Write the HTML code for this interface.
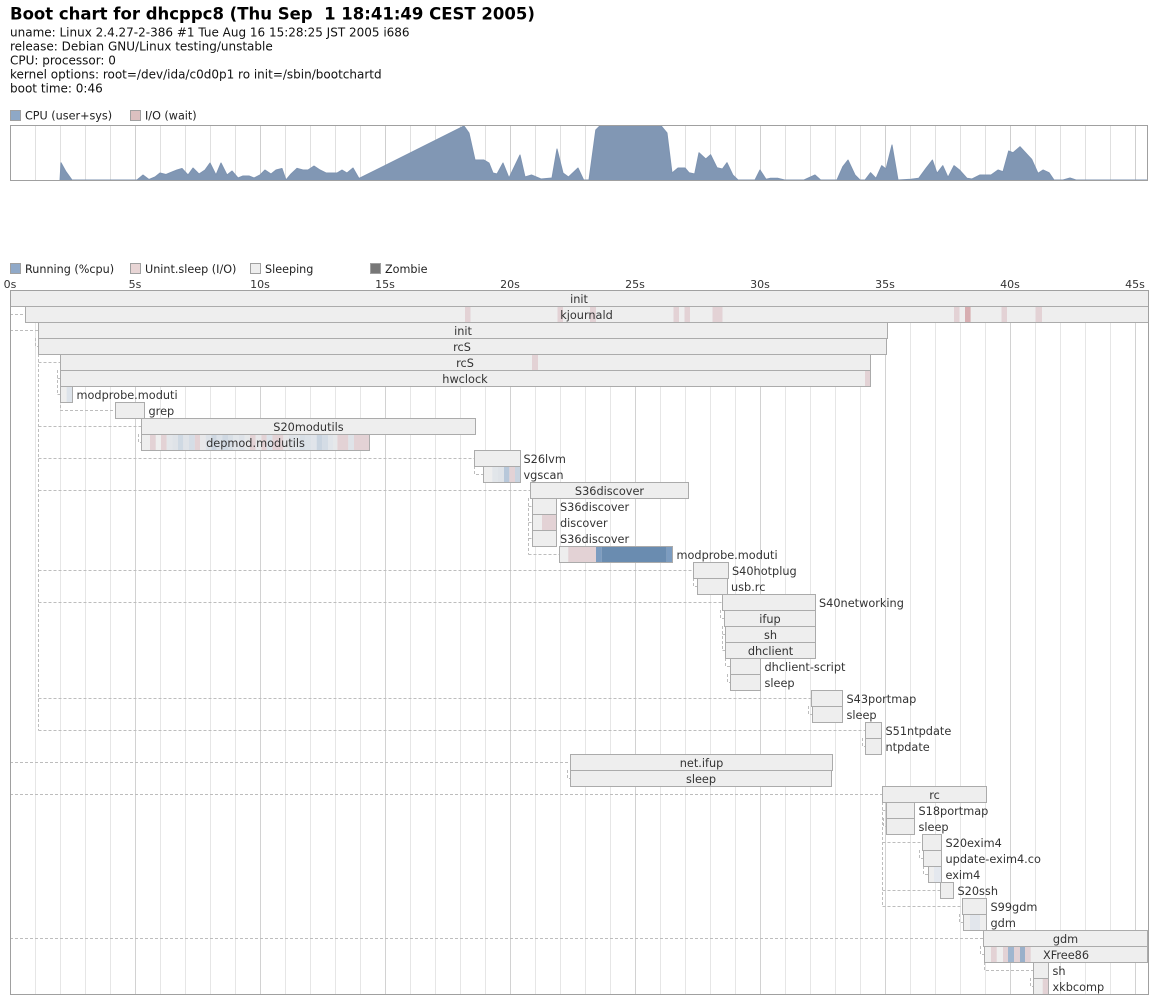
<!DOCTYPE html>
<html><head><meta charset="utf-8"><style>
html,body{margin:0;padding:0;background:#fff;}
svg{display:block;}
text{font-family:"DejaVu Sans","Liberation Sans",sans-serif;}
.hd{font-size:12px;fill:#111;}
.lg{font-size:11.2px;fill:#222;}
.tl{font-size:11px;fill:#333;text-anchor:middle;}
.pl{font-size:11.3px;fill:#333;}
.pc{font-size:11.3px;fill:#333;text-anchor:middle;}
.bar{fill:#eeeeee;}
.bs{fill:none;stroke:#ababab;stroke-width:1;}
.pk{fill:#e3d2d5;}
.dep{fill:none;stroke:#bdbdbd;stroke-width:1;stroke-dasharray:3,2;}
</style></head><body>
<svg width="1158" height="1004" viewBox="0 0 1158 1004" xmlns="http://www.w3.org/2000/svg">
<rect width="1158" height="1004" fill="#fff"/>
<text x="10" y="19.3" style="font-size:16.5px;font-weight:bold;fill:#000;white-space:pre" xml:space="preserve">Boot chart for dhcppc8 (Thu Sep  1 18:41:49 CEST 2005)</text>
<text class="hd" x="10" y="36.3">uname: Linux 2.4.27-2-386 #1 Tue Aug 16 15:28:25 JST 2005 i686</text>
<text class="hd" x="10" y="50.3">release: Debian GNU/Linux testing/unstable</text>
<text class="hd" x="10" y="64.3">CPU: processor: 0</text>
<text class="hd" x="10" y="78.3">kernel options: root=/dev/ida/c0d0p1 ro init=/sbin/bootchartd</text>
<text class="hd" x="10" y="92.3">boot time: 0:46</text>

<!-- CPU legend -->
<rect x="10.5" y="110.5" width="10" height="10" fill="#8ea8c6" stroke="#a0a0a0"/>
<text class="lg" x="25" y="119.5">CPU (user+sys)</text>
<rect x="130.5" y="110.5" width="10" height="10" fill="#dcc0c0" stroke="#a0a0a0"/>
<text class="lg" x="145" y="119.5">I/O (wait)</text>

<!-- CPU chart grid -->
<path stroke="#e0e0e0" stroke-width="1" fill="none" d="M35.5 125V180M60.5 125V180M85.5 125V180M110.5 125V180M160.5 125V180M185.5 125V180M210.5 125V180M235.5 125V180M285.5 125V180M310.5 125V180M335.5 125V180M360.5 125V180M410.5 125V180M435.5 125V180M460.5 125V180M485.5 125V180M535.5 125V180M560.5 125V180M585.5 125V180M610.5 125V180M660.5 125V180M685.5 125V180M710.5 125V180M735.5 125V180M785.5 125V180M810.5 125V180M835.5 125V180M860.5 125V180M910.5 125V180M935.5 125V180M960.5 125V180M985.5 125V180M1035.5 125V180M1060.5 125V180M1085.5 125V180M1110.5 125V180"/>
<path stroke="#cfcfcf" stroke-width="1" fill="none" d="M135.5 125V180M260.5 125V180M385.5 125V180M510.5 125V180M635.5 125V180M760.5 125V180M885.5 125V180M1010.5 125V180M1135.5 125V180"/>

<!-- CPU area -->
<path fill="#8197b4" stroke="#7d93b1" stroke-width="1" stroke-linejoin="round" d="M60 180.5 L61 162.7 L66 171.7 L72 180 L137 180 L143 175 L149 179.5 L155 177 L160 173 L166 174.5 L172 172 L177 170 L182 168.5 L188 175 L193 168 L199 174 L205 170 L210 163 L216 175 L221 163 L227 175 L232 171 L238 178 L243 176 L249 176 L254 178 L260 175 L265 170 L271 174 L276 170 L282 168.5 L286 180 L291 174 L297 168.3 L303 170 L308 170 L314 166 L320 170 L326 173 L331 173 L337 173 L342 170 L347 173 L353 168 L359 178.5 L464 126 L469 133 L475 160 L484 160 L489 163 L493 173 L497 174 L503 163 L509 178 L520 155 L525 177 L531.5 175 L541 179 L552 178 L557 149 L563 173 L568.5 177 L578 168 L583.6 180 L589 180 L595.8 130 L600 125.7 L661 125.7 L667 133 L672 173 L678 168 L685 168 L689 172.7 L694.7 174 L699 152.7 L705.8 159 L710.6 154.7 L717 167.7 L722.4 169 L727 162.7 L732.8 175 L738 180 L755 180 L760 170 L766 179.3 L770.6 178.3 L778 178.3 L784.7 180 L804 180 L815 175 L820.6 180 L837 180 L842.8 166.7 L848 160 L855 175 L860 180 L865 180 L870.6 172.7 L876 178.3 L881.7 165.7 L886 169 L892 145 L898 180 L911 179.3 L918.7 178.3 L926 168.3 L932.4 160 L937 173.3 L942.8 165.7 L948 177.3 L954 165.7 L959.5 170 L967 178.3 L972 179 L980 175 L991 175 L998 170 L1003 171.7 L1008.7 151 L1013 152.7 L1020 146.7 L1031.7 159.3 L1038 173.3 L1043 170 L1049 172.7 L1054 180 L1063 180 L1070 178 L1076 180 L1147.5 180 L1147.5 180.5 Z"/>
<rect x="10.5" y="125.5" width="1137" height="55" fill="none" stroke="#a0a0a0"/>

<!-- Process legend -->
<rect x="10.5" y="263.5" width="10" height="10" fill="#90a9c8" stroke="#a0a0a0"/>
<text class="lg" x="25" y="273">Running (%cpu)</text>
<rect x="130.5" y="263.5" width="10" height="10" fill="#e8d5d5" stroke="#a0a0a0"/>
<text class="lg" x="145" y="273">Unint.sleep (I/O)</text>
<rect x="250.5" y="263.5" width="10" height="10" fill="#eeeeee" stroke="#a0a0a0"/>
<text class="lg" x="265" y="273">Sleeping</text>
<rect x="370.5" y="263.5" width="10" height="10" fill="#777777" stroke="#a0a0a0"/>
<text class="lg" x="385" y="273">Zombie</text>

<!-- time labels -->
<text class="tl" x="10" y="288">0s</text>
<text class="tl" x="135" y="288">5s</text>
<text class="tl" x="260" y="288">10s</text>
<text class="tl" x="385" y="288">15s</text>
<text class="tl" x="510" y="288">20s</text>
<text class="tl" x="635" y="288">25s</text>
<text class="tl" x="760" y="288">30s</text>
<text class="tl" x="885" y="288">35s</text>
<text class="tl" x="1010" y="288">40s</text>
<text class="tl" x="1135" y="288">45s</text>

<!-- process grid -->
<path stroke="#e6e6e6" stroke-width="1" fill="none" d="M35.5 290V994M60.5 290V994M85.5 290V994M110.5 290V994M160.5 290V994M185.5 290V994M210.5 290V994M235.5 290V994M285.5 290V994M310.5 290V994M335.5 290V994M360.5 290V994M410.5 290V994M435.5 290V994M460.5 290V994M485.5 290V994M535.5 290V994M560.5 290V994M585.5 290V994M610.5 290V994M660.5 290V994M685.5 290V994M710.5 290V994M735.5 290V994M785.5 290V994M810.5 290V994M835.5 290V994M860.5 290V994M910.5 290V994M935.5 290V994M960.5 290V994M985.5 290V994M1035.5 290V994M1060.5 290V994M1085.5 290V994M1110.5 290V994"/>
<path stroke="#d2d2d2" stroke-width="1" fill="none" d="M135.5 290V994M260.5 290V994M385.5 290V994M510.5 290V994M635.5 290V994M760.5 290V994M885.5 290V994M1010.5 290V994M1135.5 290V994"/>

<!-- dependency lines -->
<path class="dep" d="M10 314.5H25M10 330.5H38M35.5 338V346.5H38M38.5 354V730.5M38.5 362.5H60M57.5 370V394.5M57.5 378.5H60M57.5 394.5H60M60.5 370V410.5H115M38.5 426.5H141M138.5 434V442.5H141M38.5 458.5H474M474.5 466V474.5H483M38.5 490.5H530M528.5 498V554.5M528.5 506.5H532M528.5 522.5H532M528.5 538.5H532M528.5 554.5H559M38.5 570.5H693M693.5 578V586.5H697M38.5 602.5H722M720.5 610V618.5H724M722.5 626V650.5M722.5 634.5H725M722.5 650.5H725M725.5 658V666.5H730M727.5 674V682.5H730M38.5 698.5H811M808.5 706V714.5H812M38.5 730.5H865M862.5 738V746.5H865M10 762.5H570M567.5 770V778.5H570M10 794.5H882M882.5 802V906.5M882.5 810.5H886M883.5 818V826.5H886M882.5 842.5H922M919.5 850V858.5H923M923.5 866V874.5H928M882.5 890.5H940M882.5 906.5H962M959.5 914V922.5H963M10 938.5H983M980.5 946V954.5H984M984.5 962V970.5H1033M1030.5 978V986.5H1033"/>

<!-- bars fill -->
<g class="bar">
<rect x="10.5" y="290.5" width="1138" height="16"/>
<rect x="25.5" y="306.5" width="1123" height="16"/>
<rect x="38.5" y="322.5" width="849" height="16"/>
<rect x="38.5" y="338.5" width="848" height="16"/>
<rect x="60.5" y="354.5" width="810" height="16"/>
<rect x="60.5" y="370.5" width="810" height="16"/>
<rect x="60.5" y="386.5" width="12" height="16"/>
<rect x="115.5" y="402.5" width="29" height="16"/>
<rect x="141.5" y="418.5" width="334" height="16"/>
<rect x="141.5" y="434.5" width="228" height="16"/>
<rect x="474.5" y="450.5" width="46" height="16"/>
<rect x="483.5" y="466.5" width="37" height="16"/>
<rect x="530.5" y="482.5" width="158" height="16"/>
<rect x="532.5" y="498.5" width="24" height="16"/>
<rect x="532.5" y="514.5" width="24" height="16"/>
<rect x="532.5" y="530.5" width="24" height="16"/>
<rect x="559.5" y="546.5" width="113" height="16"/>
<rect x="693.5" y="562.5" width="35" height="16"/>
<rect x="697.5" y="578.5" width="30" height="16"/>
<rect x="722.5" y="594.5" width="93" height="16"/>
<rect x="724.5" y="610.5" width="91" height="16"/>
<rect x="725.5" y="626.5" width="90" height="16"/>
<rect x="725.5" y="642.5" width="90" height="16"/>
<rect x="730.5" y="658.5" width="30" height="16"/>
<rect x="730.5" y="674.5" width="30" height="16"/>
<rect x="811.5" y="690.5" width="31" height="16"/>
<rect x="812.5" y="706.5" width="30" height="16"/>
<rect x="865.5" y="722.5" width="16" height="16"/>
<rect x="865.5" y="738.5" width="16" height="16"/>
<rect x="570.5" y="754.5" width="262" height="16"/>
<rect x="570.5" y="770.5" width="261" height="16"/>
<rect x="882.5" y="786.5" width="104" height="16"/>
<rect x="886.5" y="802.5" width="28" height="16"/>
<rect x="886.5" y="818.5" width="28" height="16"/>
<rect x="922.5" y="834.5" width="19" height="16"/>
<rect x="923.5" y="850.5" width="18" height="16"/>
<rect x="928.5" y="866.5" width="13" height="16"/>
<rect x="940.5" y="882.5" width="13" height="16"/>
<rect x="962.5" y="898.5" width="24" height="16"/>
<rect x="963.5" y="914.5" width="23" height="16"/>
<rect x="983.5" y="930.5" width="164" height="16"/>
<rect x="984.5" y="946.5" width="163" height="16"/>
<rect x="1033.5" y="962.5" width="15" height="16"/>
<rect x="1033.5" y="978.5" width="15" height="16"/>
</g>

<!-- colored segments -->
<g class="pk">
<rect x="465" y="307" width="5.5" height="15"/>
<rect x="557.5" y="307" width="5.5" height="15"/>
<rect x="590" y="307" width="6" height="15"/>
<rect x="673.5" y="307" width="5.5" height="15"/>
<rect x="684.5" y="307" width="5.5" height="15"/>
<rect x="712.5" y="307" width="10" height="15"/>
<rect x="954" y="307" width="5.5" height="15"/>
<rect x="1001.5" y="307" width="5.5" height="15"/>
<rect x="1035.5" y="307" width="6.5" height="15"/>
<rect x="532" y="355" width="6" height="15"/>
<rect x="865" y="371" width="5.5" height="15"/>
<rect x="150" y="435" width="5.7" height="15"/>
<rect x="161" y="435" width="5.7" height="15"/>
<rect x="194.7" y="435" width="5.3" height="15"/>
<rect x="250" y="435" width="5.7" height="15"/>
<rect x="261.3" y="435" width="5.4" height="15"/>
<rect x="272.3" y="435" width="11" height="15"/>
<rect x="337.3" y="435" width="11" height="15"/>
<rect x="354" y="435" width="15.5" height="15"/>
<rect x="509.3" y="467" width="5.7" height="15"/>
<rect x="542" y="515" width="14.5" height="15"/>
<rect x="568.3" y="547" width="27.7" height="15"/>
<rect x="991" y="947" width="5.7" height="15"/>
<rect x="1003" y="947" width="5" height="15"/>
<rect x="1014" y="947" width="6" height="15"/>
<rect x="1025" y="947" width="5.7" height="15"/>
<rect x="1042.7" y="979" width="5.8" height="15"/>
</g>
<rect x="965" y="307" width="5.6" height="15" fill="#d7aeb1"/>
<rect x="66.7" y="387" width="5.8" height="15" fill="#dde3ea"/>
<g>
<rect x="166.7" y="435" width="5.6" height="15" fill="#e3e6ea"/>
<rect x="172.3" y="435" width="5.7" height="15" fill="#dfe3e8"/>
<rect x="178" y="435" width="5.3" height="15" fill="#cfd9e3"/>
<rect x="183.3" y="435" width="5.7" height="15" fill="#dfe3e8"/>
<rect x="189" y="435" width="5.7" height="15" fill="#d5dde6"/>
<rect x="200" y="435" width="5.7" height="15" fill="#e8e8ea"/>
<rect x="205.7" y="435" width="5.6" height="15" fill="#dde2e8"/>
<rect x="211.3" y="435" width="5.4" height="15" fill="#cdd6e0"/>
<rect x="216.7" y="435" width="5.6" height="15" fill="#dbe1e8"/>
<rect x="222.3" y="435" width="5.7" height="15" fill="#cfd8e2"/>
<rect x="228" y="435" width="5.3" height="15" fill="#d8dfe6"/>
<rect x="233.3" y="435" width="5.7" height="15" fill="#e2e6ea"/>
<rect x="239" y="435" width="5.7" height="15" fill="#dde2e8"/>
<rect x="244.7" y="435" width="5.3" height="15" fill="#e6e8ea"/>
<rect x="255.7" y="435" width="5.6" height="15" fill="#e8e8ea"/>
<rect x="266.7" y="435" width="5.6" height="15" fill="#dde3ea"/>
<rect x="283.3" y="435" width="5.7" height="15" fill="#e6e6e8"/>
<rect x="289" y="435" width="5.7" height="15" fill="#dfe3e8"/>
<rect x="294.7" y="435" width="5.3" height="15" fill="#e2e6ea"/>
<rect x="300" y="435" width="5.7" height="15" fill="#d8dfe6"/>
<rect x="305.7" y="435" width="5.6" height="15" fill="#dce2e8"/>
<rect x="311.3" y="435" width="5.4" height="15" fill="#e0e4ea"/>
<rect x="316.7" y="435" width="5.6" height="15" fill="#c9d4e0"/>
<rect x="322.3" y="435" width="5.7" height="15" fill="#d4dce5"/>
<rect x="328" y="435" width="5.3" height="15" fill="#e1e5ea"/>
<rect x="333.3" y="435" width="4" height="15" fill="#e6e8ea"/>
<rect x="348.3" y="435" width="5.7" height="15" fill="#dfe3e8"/>
</g>
<rect x="492.3" y="467" width="5.7" height="15" fill="#e2e6ea"/>
<rect x="498" y="467" width="6" height="15" fill="#dfe3e8"/>
<rect x="504" y="467" width="5.3" height="15" fill="#b8c8da"/>
<rect x="515" y="467" width="5.5" height="15" fill="#c9d4e0"/>
<rect x="596" y="547" width="5.7" height="15" fill="#7c9cc0"/>
<rect x="601.7" y="547" width="65" height="15" fill="#6a8cb0"/>
<rect x="666.7" y="547" width="5.8" height="15" fill="#7c9cc0"/>
<rect x="934" y="867" width="7.5" height="15" fill="#e4e8ee"/>
<rect x="970" y="915" width="10" height="15" fill="#e2e6ec"/>
<rect x="1008" y="947" width="6" height="15" fill="#a0b6cf"/>
<rect x="1020" y="947" width="5" height="15" fill="#9ab0ca"/>

<!-- bar strokes -->
<g class="bs">
<rect x="10.5" y="290.5" width="1138" height="16"/>
<rect x="25.5" y="306.5" width="1123" height="16"/>
<rect x="38.5" y="322.5" width="849" height="16"/>
<rect x="38.5" y="338.5" width="848" height="16"/>
<rect x="60.5" y="354.5" width="810" height="16"/>
<rect x="60.5" y="370.5" width="810" height="16"/>
<rect x="60.5" y="386.5" width="12" height="16"/>
<rect x="115.5" y="402.5" width="29" height="16"/>
<rect x="141.5" y="418.5" width="334" height="16"/>
<rect x="141.5" y="434.5" width="228" height="16"/>
<rect x="474.5" y="450.5" width="46" height="16"/>
<rect x="483.5" y="466.5" width="37" height="16"/>
<rect x="530.5" y="482.5" width="158" height="16"/>
<rect x="532.5" y="498.5" width="24" height="16"/>
<rect x="532.5" y="514.5" width="24" height="16"/>
<rect x="532.5" y="530.5" width="24" height="16"/>
<rect x="559.5" y="546.5" width="113" height="16"/>
<rect x="693.5" y="562.5" width="35" height="16"/>
<rect x="697.5" y="578.5" width="30" height="16"/>
<rect x="722.5" y="594.5" width="93" height="16"/>
<rect x="724.5" y="610.5" width="91" height="16"/>
<rect x="725.5" y="626.5" width="90" height="16"/>
<rect x="725.5" y="642.5" width="90" height="16"/>
<rect x="730.5" y="658.5" width="30" height="16"/>
<rect x="730.5" y="674.5" width="30" height="16"/>
<rect x="811.5" y="690.5" width="31" height="16"/>
<rect x="812.5" y="706.5" width="30" height="16"/>
<rect x="865.5" y="722.5" width="16" height="16"/>
<rect x="865.5" y="738.5" width="16" height="16"/>
<rect x="570.5" y="754.5" width="262" height="16"/>
<rect x="570.5" y="770.5" width="261" height="16"/>
<rect x="882.5" y="786.5" width="104" height="16"/>
<rect x="886.5" y="802.5" width="28" height="16"/>
<rect x="886.5" y="818.5" width="28" height="16"/>
<rect x="922.5" y="834.5" width="19" height="16"/>
<rect x="923.5" y="850.5" width="18" height="16"/>
<rect x="928.5" y="866.5" width="13" height="16"/>
<rect x="940.5" y="882.5" width="13" height="16"/>
<rect x="962.5" y="898.5" width="24" height="16"/>
<rect x="963.5" y="914.5" width="23" height="16"/>
<rect x="983.5" y="930.5" width="164" height="16"/>
<rect x="984.5" y="946.5" width="163" height="16"/>
<rect x="1033.5" y="962.5" width="15" height="16"/>
<rect x="1033.5" y="978.5" width="15" height="16"/>
</g>

<!-- process box -->
<rect x="10.5" y="290.5" width="1138" height="704" fill="none" stroke="#a0a0a0"/>

<!-- labels -->
<text class="pc" x="579" y="303">init</text>
<text class="pc" x="586.5" y="319">kjournald</text>
<text class="pc" x="463" y="335">init</text>
<text class="pc" x="462" y="351">rcS</text>
<text class="pc" x="465" y="367">rcS</text>
<text class="pc" x="465" y="383">hwclock</text>
<text class="pl" x="76.5" y="399">modprobe.moduti</text>
<text class="pl" x="148.5" y="415">grep</text>
<text class="pc" x="308.5" y="431">S20modutils</text>
<text class="pc" x="255.5" y="447">depmod.modutils</text>
<text class="pl" x="523.5" y="463">S26lvm</text>
<text class="pl" x="523.5" y="479">vgscan</text>
<text class="pc" x="609.5" y="495">S36discover</text>
<text class="pl" x="560" y="511">S36discover</text>
<text class="pl" x="560" y="527">discover</text>
<text class="pl" x="560" y="543">S36discover</text>
<text class="pl" x="676.5" y="559">modprobe.moduti</text>
<text class="pl" x="732" y="575">S40hotplug</text>
<text class="pl" x="731" y="591">usb.rc</text>
<text class="pl" x="819" y="607">S40networking</text>
<text class="pc" x="770" y="623">ifup</text>
<text class="pc" x="770.5" y="639">sh</text>
<text class="pc" x="770.5" y="655">dhclient</text>
<text class="pl" x="764.5" y="671">dhclient-script</text>
<text class="pl" x="764.5" y="687">sleep</text>
<text class="pl" x="846.5" y="703">S43portmap</text>
<text class="pl" x="846.5" y="719">sleep</text>
<text class="pl" x="885.5" y="735">S51ntpdate</text>
<text class="pl" x="885.5" y="751">ntpdate</text>
<text class="pc" x="701.5" y="767">net.ifup</text>
<text class="pc" x="701" y="783">sleep</text>
<text class="pc" x="934.5" y="799">rc</text>
<text class="pl" x="918.5" y="815">S18portmap</text>
<text class="pl" x="918.5" y="831">sleep</text>
<text class="pl" x="945.5" y="847">S20exim4</text>
<text class="pl" x="945.5" y="863">update-exim4.co</text>
<text class="pl" x="945.5" y="879">exim4</text>
<text class="pl" x="957.5" y="895">S20ssh</text>
<text class="pl" x="990.5" y="911">S99gdm</text>
<text class="pl" x="990.5" y="927">gdm</text>
<text class="pc" x="1065.5" y="943">gdm</text>
<text class="pc" x="1066" y="959">XFree86</text>
<text class="pl" x="1052.5" y="975">sh</text>
<text class="pl" x="1052.5" y="991">xkbcomp</text>
</svg>
</body></html>
